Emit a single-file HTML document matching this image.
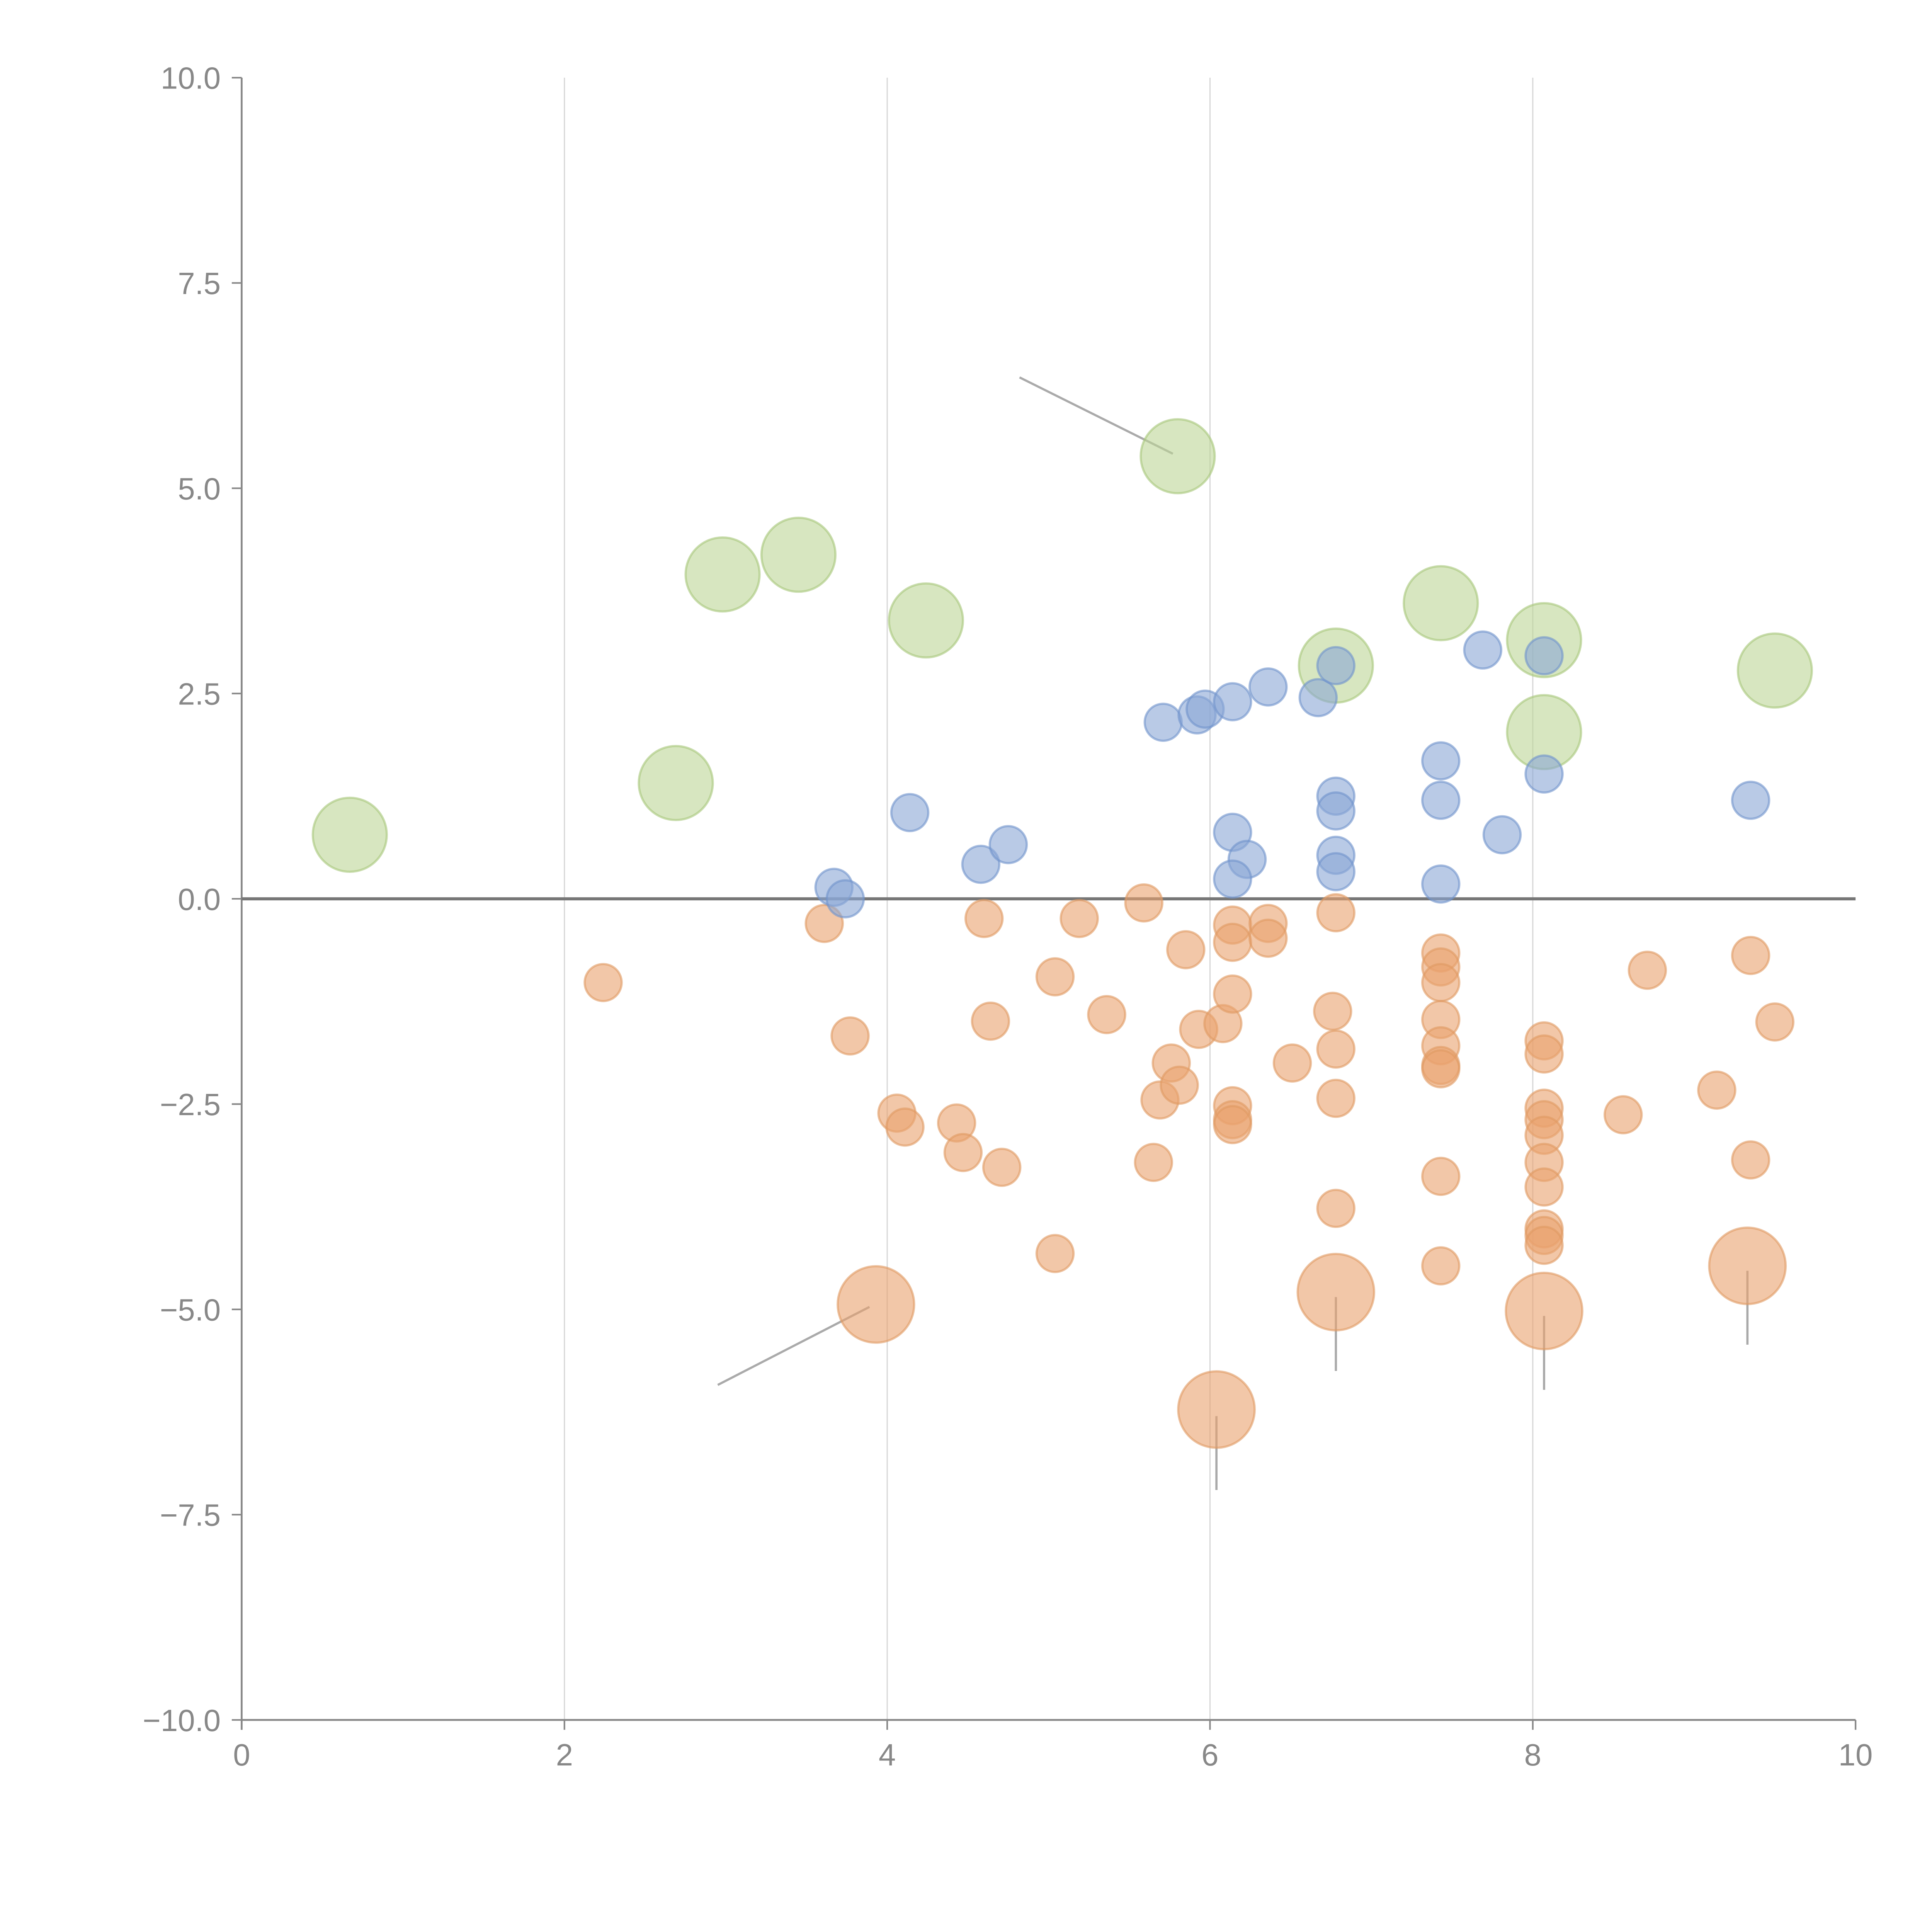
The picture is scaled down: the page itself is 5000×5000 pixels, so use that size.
<!DOCTYPE html>
<html><head><meta charset="utf-8"><style>
html,body{margin:0;padding:0;background:#fff;}
svg{display:block;font-family:"Liberation Sans",sans-serif;}
</style></head><body>
<svg id="chart" width="5000" height="5000" viewBox="0 0 1567 1567" xmlns="http://www.w3.org/2000/svg">
<g id="grid"></g>
<g id="axes"></g>
<g id="marks"></g>
</svg>
<script>
const xTicks = [0, 2, 4, 6, 8, 10];
const yTicks = [10, 7.5, 5, 2.5, 0, -2.5, -5, -7.5, -10];
const yTickLabels = ["10.0", "7.5", "5.0", "2.5", "0.0", "\u22122.5", "\u22125.0", "\u22127.5", "\u221210.0"];
const greenX = [0.67, 2.69, 2.98, 3.45, 4.24, 5.80, 6.78, 7.43, 8.07, 8.07, 9.50];
const greenY = [0.78, 1.41, 3.95, 4.19, 3.39, 5.39, 2.84, 3.60, 3.15, 2.03, 2.78];
const blueX = [3.67, 3.74, 4.14, 4.58, 4.75, 5.71, 5.92, 5.97, 6.14, 6.36, 6.67, 6.78, 6.14, 6.23, 6.14, 6.78, 6.78, 6.78, 6.78, 7.43, 7.43, 7.43, 7.69, 7.81, 8.07, 8.07, 9.35];
const blueY = [0.14, 0.0, 1.05, 0.42, 0.66, 2.15, 2.24, 2.31, 2.40, 2.58, 2.45, 2.84, 0.81, 0.48, 0.24, 1.25, 1.07, 0.53, 0.33, 1.68, 1.20, 0.18, 3.03, 0.78, 2.96, 1.52, 1.20];
const orangeX = [2.24, 3.61, 3.77, 4.06, 4.11, 4.43, 4.47, 4.60, 4.64, 4.71, 5.04, 5.04, 5.19, 5.36, 5.59, 5.65, 5.69, 5.76, 5.81, 5.85, 5.93, 6.08, 6.14, 6.14, 6.14, 6.14, 6.14, 6.14, 6.36, 6.36, 6.51, 6.76, 6.78, 6.78, 6.78, 6.78, 7.43, 7.43, 7.43, 7.43, 7.43, 7.43, 7.43, 7.43, 7.43, 8.07, 8.07, 8.07, 8.07, 8.07, 8.07, 8.07, 8.07, 8.07, 8.07, 8.56, 8.71, 9.14, 9.35, 9.35, 9.50];
const orangeY = [-1.02, -0.30, -1.67, -2.61, -2.78, -2.73, -3.09, -0.24, -1.49, -3.27, -0.95, -4.32, -0.24, -1.41, -0.05, -3.21, -2.45, -2.00, -2.27, -0.62, -1.59, -1.52, -0.32, -0.53, -1.16, -2.52, -2.69, -2.75, -0.30, -0.48, -2.00, -1.37, -0.17, -1.83, -2.43, -3.77, -0.66, -0.83, -1.02, -1.47, -1.79, -2.03, -2.07, -3.38, -4.47, -1.73, -1.89, -2.55, -2.69, -2.88, -3.21, -3.51, -4.02, -4.10, -4.22, -2.63, -0.87, -2.33, -0.69, -3.18, -1.50];
const bigOrangeX = [3.93, 6.04, 6.78, 8.07, 9.33];
const bigOrangeY = [-4.94, -6.22, -4.79, -5.02, -4.47];

const NS = "http://www.w3.org/2000/svg";
const X0 = 196, X1 = 1505, Y0 = 1395, Y1 = 63;
const sx = v => X0 + (v - 0) / 10 * (X1 - X0);
const sy = v => Y0 - (v + 10) / 20 * (Y0 - Y1);
function mk(tag, attrs, parent) {
  const e = document.createElementNS(NS, tag);
  for (const k in attrs) e.setAttribute(k, attrs[k]);
  parent.appendChild(e);
  return e;
}
const grid = document.getElementById('grid');
const axes = document.getElementById('axes');
const marks = document.getElementById('marks');

xTicks.forEach(t => {
  if (t > 0 && t < 10) {
    const g = mk('line', {x1: sx(t), x2: sx(t), y1: Y1, y2: Y0, stroke: '#d8d8d8', 'stroke-width': 1}, grid);
    
    
  }
  const tk = mk('line', {x1: sx(t), x2: sx(t), y1: Y0, y2: Y0 + 8, stroke: '#888', 'stroke-width': 1.3}, axes);
  
  
  const lb = mk('text', {x: sx(t), y: Y0 + 37, 'text-anchor': 'middle', 'font-size': 25, fill: '#888'}, axes);
  lb.textContent = t;
  
  
});
yTicks.forEach((t, i) => {
  const tk = mk('line', {x1: X0 - 8, x2: X0, y1: sy(t), y2: sy(t), stroke: '#888', 'stroke-width': 1.3}, axes);
  
  
  const lb = mk('text', {x: X0 - 17, y: sy(t) + 9, 'text-anchor': 'end', 'font-size': 25, fill: '#888'}, axes);
  lb.textContent = yTickLabels[i];
  
  
});
const ya = mk('line', {x1: X0, x2: X0, y1: Y1, y2: Y0 + 8, stroke: '#888', 'stroke-width': 1.5}, axes);


const xa = mk('line', {x1: X0, x2: X1, y1: Y0, y2: Y0, stroke: '#888', 'stroke-width': 1.5}, axes);


const zl = mk('line', {x1: X0, x2: X1, y1: sy(0), y2: sy(0), stroke: '#777', 'stroke-width': 2.5}, axes);



const ann = [[4.82, 6.35, 5.77, 5.42], [2.95, -5.92, 3.89, -4.97], [6.04, -6.3, 6.04, -7.2], [6.78, -4.85, 6.78, -5.75], [8.07, -5.08, 8.07, -5.98], [9.33, -4.53, 9.33, -5.43]];
ann.forEach(a => {
  const l = mk('line', {x1: sx(a[0]), y1: sy(a[1]), x2: sx(a[2]), y2: sy(a[3]), stroke: '#aaa', 'stroke-width': 1.8}, marks);
  
  
});

function series(xs, ys, r, fill, stroke, name) {
  xs.forEach((x, i) => {
    const c = mk('circle', {cx: sx(x), cy: sy(ys[i]), r: r, fill: fill, 'fill-opacity': 0.6, stroke: stroke, 'stroke-opacity': 0.6, 'stroke-width': 1.8}, marks);
    
    
  });
}
series(orangeX, orangeY, 15, '#e9a26e', '#e09a63', 'orange-point');
series(bigOrangeX, bigOrangeY, 31, '#e9a26e', '#e09a63', 'large-orange-point');
series(greenX, greenY, 30, '#bcd596', '#a6c77a', 'green-point');
series(blueX, blueY, 15, '#8aa7d6', '#6f93cc', 'blue-point');
</script>
</body></html>
